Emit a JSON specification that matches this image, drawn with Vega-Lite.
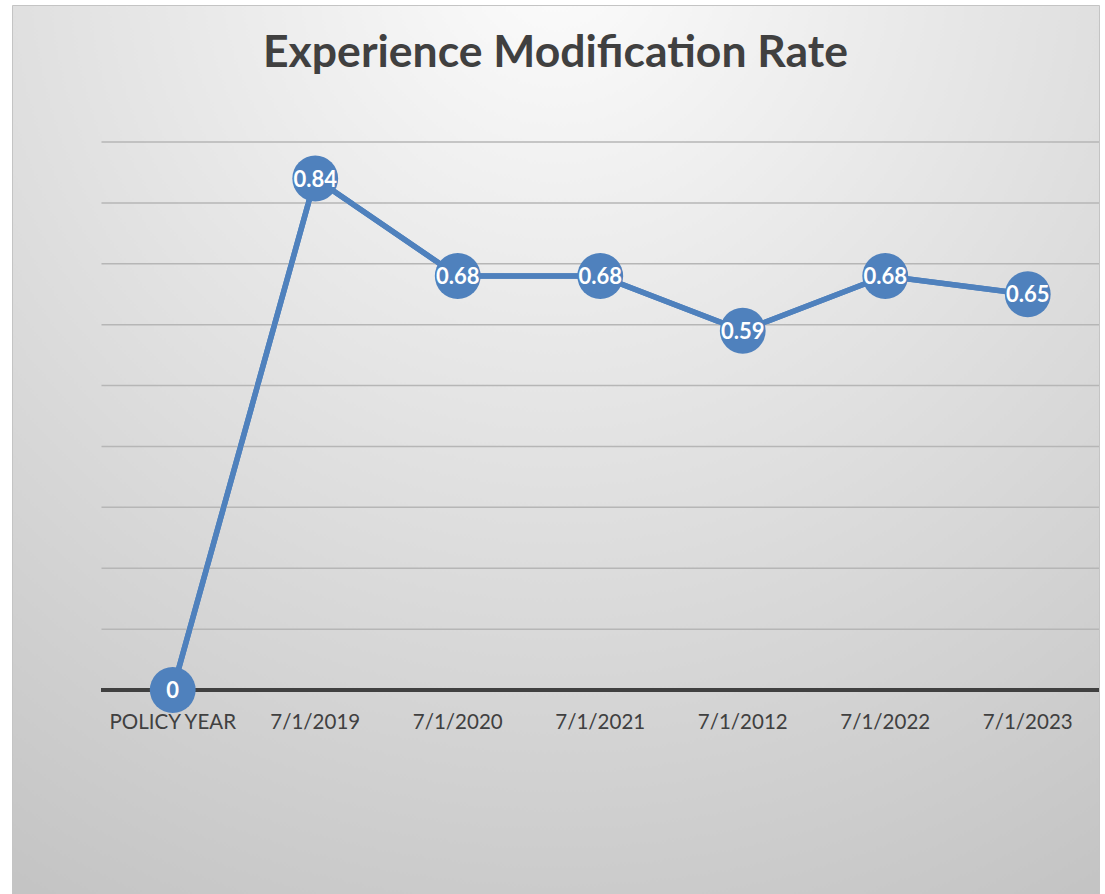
{
  "$schema": "https://vega.github.io/schema/vega-lite/v6.json",
  "width": 1087,
  "height": 889,
  "autosize": {"type": "none"},
  "padding": {"top": 5, "left": 12, "right": 6, "bottom": 0},
  "background": "#ffffff",
  "title": {
    "text": "Experience Modification Rate",
    "anchor": "middle",
    "frame": "group",
    "orient": "top",
    "offset": -106,
    "baseline": "alphabetic",
    "font": "Lato",
    "fontWeight": "bold",
    "fontSize": 44.5,
    "color": "#404040"
  },
  "config": {
    "view": {
      "fill": {
        "gradient": "radial",
        "x1": 0.5, "y1": 0.05, "r1": 0,
        "x2": 0.5, "y2": 0.05, "r2": 1.05,
        "stops": [
          {"offset": 0, "color": "#fcfcfc"},
          {"offset": 1, "color": "#c0c0c0"}
        ]
      },
      "stroke": "#c4c4c4",
      "strokeWidth": 1
    }
  },
  "datasets": {
    "emr": [
      {"year": "POLICY YEAR", "rate": 0},
      {"year": "7/1/2019", "rate": 0.84},
      {"year": "7/1/2020", "rate": 0.68},
      {"year": "7/1/2021", "rate": 0.68},
      {"year": "7/1/2012", "rate": 0.59},
      {"year": "7/1/2022", "rate": 0.68},
      {"year": "7/1/2023", "rate": 0.65}
    ],
    "grid": [
      {"level": 0.1}, {"level": 0.2}, {"level": 0.3}, {"level": 0.4}, {"level": 0.5},
      {"level": 0.6}, {"level": 0.7}, {"level": 0.8}, {"level": 0.9}
    ]
  },
  "layer": [
    {
      "data": {"name": "emr"},
      "mark": {"type": "line", "color": "#4f81bd", "strokeWidth": 5.5},
      "encoding": {
        "x": {
          "field": "year", "type": "nominal", "sort": null,
          "scale": {
            "type": "band",
            "domain": ["POLICY YEAR", "7/1/2019", "7/1/2020", "7/1/2021", "7/1/2012", "7/1/2022", "7/1/2023"],
            "paddingInner": 0, "paddingOuter": 0.314, "align": 1
          },
          "axis": {
            "orient": "bottom", "offset": -204, "domain": false, "ticks": false, "tickSize": 0,
            "labelPadding": 38, "labelBaseline": "alphabetic", "labelAngle": 0,
            "labelFont": "Lato", "labelFontSize": 20.5, "labelColor": "#404040",
            "labelOverlap": false, "labelFlush": false, "title": null, "grid": false
          }
        },
        "y": {
          "field": "rate", "type": "quantitative",
          "scale": {"domain": [-0.335, 1.125], "nice": false, "zero": false},
          "axis": null
        }
      }
    },
    {
      "data": {"name": "grid"},
      "mark": {"type": "rule", "color": "#b6b6b6", "strokeWidth": 1.5},
      "encoding": {
        "y": {"field": "level", "type": "quantitative"},
        "x": {"datum": "POLICY YEAR", "type": "nominal", "bandPosition": 0},
        "x2": {"datum": "7/1/2023", "bandPosition": 1}
      }
    },
    {
      "data": {"name": "grid"},
      "mark": {"type": "rule", "color": "#404040", "strokeWidth": 3.5},
      "encoding": {
        "y": {"datum": 0, "type": "quantitative"},
        "x": {"datum": "POLICY YEAR", "type": "nominal", "bandPosition": 0},
        "x2": {"datum": "7/1/2023", "bandPosition": 1}
      }
    },
    {
      "data": {"name": "emr"},
      "mark": {"type": "line", "color": "#4f81bd", "strokeWidth": 5.5},
      "encoding": {
        "x": {"field": "year", "type": "nominal", "sort": null},
        "y": {"field": "rate", "type": "quantitative"}
      }
    },
    {
      "data": {"name": "emr"},
      "mark": {"type": "circle", "color": "#4f81bd", "opacity": 1, "size": 2100},
      "encoding": {
        "x": {"field": "year", "type": "nominal", "sort": null},
        "y": {"field": "rate", "type": "quantitative"}
      }
    },
    {
      "data": {"name": "emr"},
      "mark": {"type": "text", "color": "#ffffff", "font": "Lato", "fontWeight": "bold", "fontSize": 22, "baseline": "middle", "align": "center", "dy": 1},
      "encoding": {
        "x": {"field": "year", "type": "nominal", "sort": null},
        "y": {"field": "rate", "type": "quantitative"},
        "text": {"field": "rate", "type": "quantitative", "format": ".2~f"}
      }
    }
  ]
}
